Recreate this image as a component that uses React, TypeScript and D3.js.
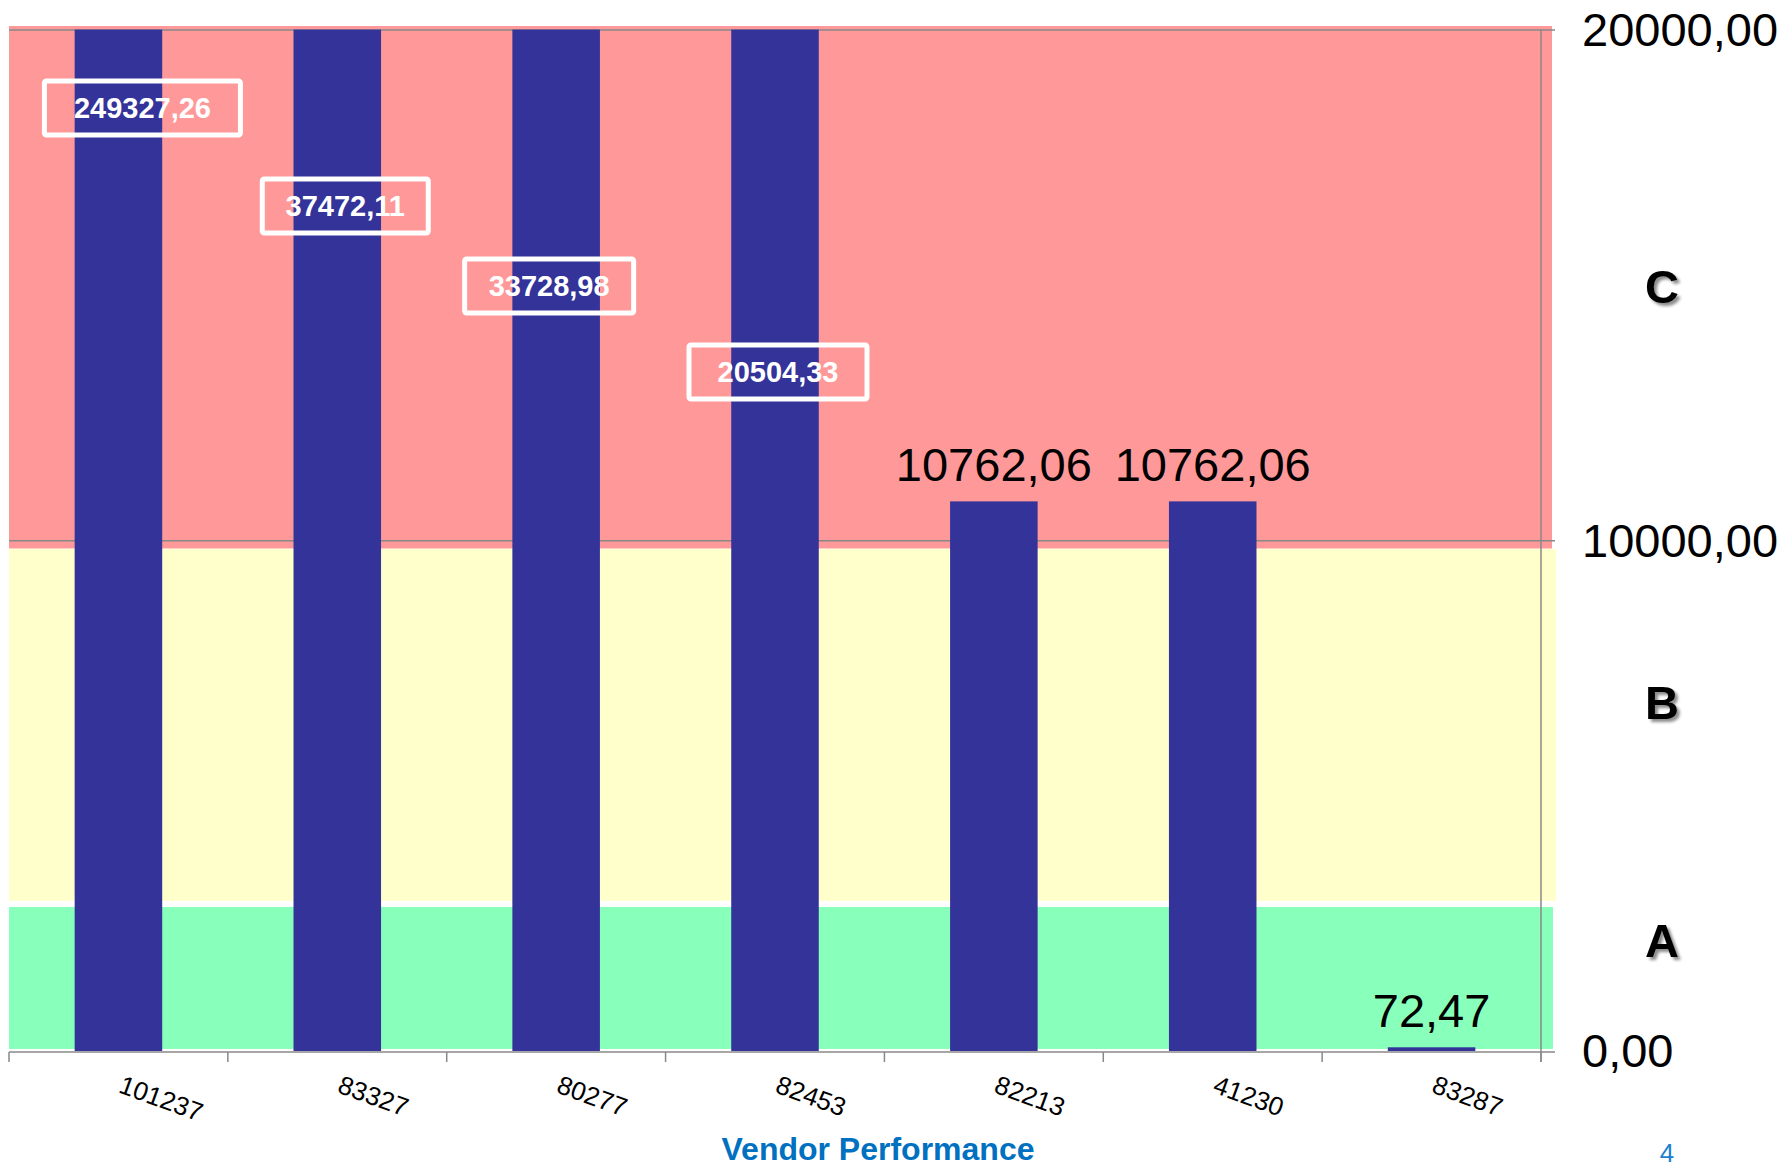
import { useEffect, useRef } from "react";
import * as d3 from "d3";

// vendor amounts, bars above the axis max get a boxed label instead
const vendors = ["101237", "83327", "80277", "82453", "82213", "41230", "83287"];
const amounts = [249327.26, 37472.11, 33728.98, 20504.33, 10762.06, 10762.06, 72.47];
const yTicks = [0, 10000, 20000];

const grades = ["A", "B", "C"];
const gradeFrom = [40, 2940, 9840];
const gradeTo = [2820, 9830, 20070];
const gradeLabelAt = [2170, 6820, 14970];
const gradeColors = ["#88ffbb", "#ffffcc", "#ff9999"];

// boxed callouts for the clipped bars: offset from bar centre, box centre y, box width
const calloutLayout = [
  { dx: 24, cy: 108, w: 196 },
  { dx: 8, cy: 206, w: 166 },
  { dx: -7, cy: 286, w: 169 },
  { dx: 3, cy: 372, w: 178 },
];

const FONT = "'Liberation Sans', Arial, sans-serif";

export default function App() {
  const ref = useRef<SVGSVGElement>(null);

  useEffect(() => {
    const svg = d3.select(ref.current);
    svg.selectAll("*").remove();

    const width = 1783;
    const height = 1168;
    const left = 9;
    const right = 1541;
    const top = 29.6;
    const bottom = 1051;

    svg.attr("width", width).attr("height", height);

    const fmt = d3
      .formatLocale({ decimal: ",", thousands: "", grouping: [3], currency: ["", ""] })
      .format(".2f");

    const x = d3
      .scaleBand()
      .domain(vendors)
      .range([left, right])
      .paddingInner(0.6)
      .paddingOuter(0.3);

    const y = d3.scaleLinear().domain([0, 20000]).range([bottom, top]);
    const yMax = y.domain()[1];

    const defs = svg.append("defs");
    const shadow = defs.append("filter").attr("id", "shadow").attr("x", "-50%").attr("y", "-50%").attr("width", "200%").attr("height", "200%");
    shadow
      .append("feDropShadow")
      .attr("dx", 3)
      .attr("dy", 3)
      .attr("stdDeviation", 1.5)
      .attr("flood-color", "#000")
      .attr("flood-opacity", 0.45);

    // grade bands
    svg
      .append("g")
      .selectAll("rect")
      .data(grades)
      .join("rect")
      .attr("x", left)
      .attr("width", (d, i) => right - left + [12, 15, 11][i])
      .attr("y", (d, i) => y(gradeTo[i]))
      .attr("height", (d, i) => y(gradeFrom[i]) - y(gradeTo[i]))
      .attr("fill", (d, i) => gradeColors[i]);

    // horizontal gridlines + right axis
    const axis = svg
      .append("g")
      .attr("transform", `translate(${right},0)`)
      .call(d3.axisRight(y).tickValues(yTicks.slice(1)).tickSize(14).tickFormat(() => ""));
    axis.select(".domain").remove();
    axis
      .selectAll(".tick line")
      .attr("x1", -(right - left))
      .attr("stroke", "#888")
      .attr("stroke-width", 1.5);

    // bars, clipped at the axis max
    svg
      .append("g")
      .selectAll("rect")
      .data(vendors)
      .join("rect")
      .attr("x", d => x(d)!)
      .attr("width", x.bandwidth())
      .attr("y", (d, i) => y(Math.min(amounts[i], yMax)))
      .attr("height", (d, i) => bottom - y(Math.min(amounts[i], yMax)))
      .attr("fill", "#333399");

    // bottom axis line, category ticks, right vertical line
    svg
      .append("line")
      .attr("x1", left)
      .attr("x2", right + 14)
      .attr("y1", bottom + 1)
      .attr("y2", bottom + 1)
      .attr("stroke", "#888")
      .attr("stroke-width", 1.5);
    const bounds = d3.range(vendors.length + 1).map(i => left + i * x.step());
    svg
      .append("g")
      .selectAll("line")
      .data(bounds)
      .join("line")
      .attr("x1", d => d)
      .attr("x2", d => d)
      .attr("y1", bottom + 1)
      .attr("y2", bottom + 11)
      .attr("stroke", "#888")
      .attr("stroke-width", 1.5);
    svg
      .append("line")
      .attr("x1", right)
      .attr("x2", right)
      .attr("y1", top)
      .attr("y2", bottom + 11)
      .attr("stroke", "#888")
      .attr("stroke-width", 1.5);

    // y tick labels
    svg
      .append("g")
      .selectAll("text")
      .data(yTicks)
      .join("text")
      .attr("x", right + 41)
      .attr("y", d => y(d))
      .attr("dy", "0.35em")
      .attr("font-family", FONT)
      .attr("font-size", 47)
      .attr("fill", "#000")
      .text(d => fmt(d));

    // grade letters
    svg
      .append("g")
      .selectAll("text")
      .data(grades)
      .join("text")
      .attr("x", 1662)
      .attr("y", (d, i) => y(gradeLabelAt[i]))
      .attr("dy", "0.35em")
      .attr("text-anchor", "middle")
      .attr("font-family", FONT)
      .attr("font-weight", "bold")
      .attr("font-size", 47)
      .attr("filter", "url(#shadow)")
      .text(d => d);

    // category labels
    svg
      .append("g")
      .selectAll("text")
      .data(vendors)
      .join("text")
      .attr("transform", d => `translate(${x(d)! + x.bandwidth() / 2 - 1},1092) rotate(20)`)
      .attr("font-family", FONT)
      .attr("font-size", 26)
      .text(d => d);

    // value labels above the bars that fit
    svg
      .append("g")
      .selectAll("text")
      .data(vendors.filter((d, i) => amounts[i] <= yMax))
      .join("text")
      .attr("x", d => x(d)! + x.bandwidth() / 2)
      .attr("y", d => y(amounts[vendors.indexOf(d)]) - 20)
      .attr("text-anchor", "middle")
      .attr("font-family", FONT)
      .attr("font-size", 47)
      .text(d => fmt(amounts[vendors.indexOf(d)]));

    // boxed labels for clipped bars
    const clipped = vendors.filter((d, i) => amounts[i] > yMax);
    const box = svg.append("g").selectAll("g").data(clipped).join("g");
    box
      .append("rect")
      .attr("x", (d, i) => x(d)! + x.bandwidth() / 2 + calloutLayout[i].dx - calloutLayout[i].w / 2)
      .attr("y", (d, i) => calloutLayout[i].cy - 27)
      .attr("width", (d, i) => calloutLayout[i].w)
      .attr("height", 54)
      .attr("rx", 2)
      .attr("fill", "none")
      .attr("stroke", "#fff")
      .attr("stroke-width", 5);
    box
      .append("text")
      .attr("x", (d, i) => x(d)! + x.bandwidth() / 2 + calloutLayout[i].dx)
      .attr("y", (d, i) => calloutLayout[i].cy)
      .attr("dy", "0.36em")
      .attr("text-anchor", "middle")
      .attr("font-family", FONT)
      .attr("font-weight", "bold")
      .attr("font-size", 29)
      .attr("fill", "#fff")
      .text(d => fmt(amounts[vendors.indexOf(d)]));

    // footer
    svg
      .append("text")
      .attr("x", 878)
      .attr("y", 1160)
      .attr("text-anchor", "middle")
      .attr("font-family", FONT)
      .attr("font-weight", "bold")
      .attr("font-size", 32)
      .attr("fill", "#0070c0")
      .text("Vendor Performance");
    svg
      .append("text")
      .attr("x", 1667)
      .attr("y", 1162)
      .attr("text-anchor", "middle")
      .attr("font-family", FONT)
      .attr("font-size", 26)
      .attr("fill", "#1a7fd0")
      .text("4");
  }, []);

  return <svg ref={ref} style={{ position: "absolute", left: 0, top: 0, display: "block" }}></svg>;
}
